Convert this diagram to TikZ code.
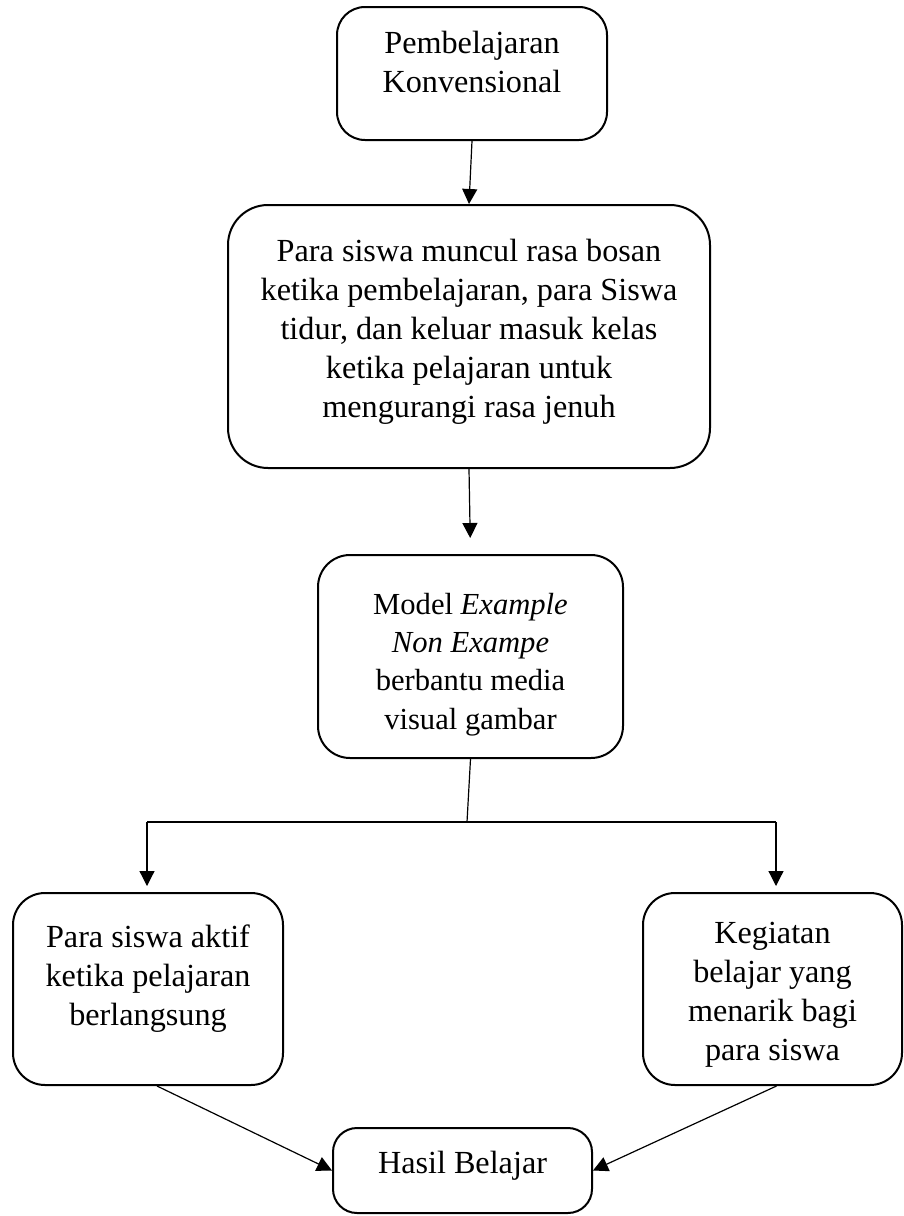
\documentclass[tikz,border=0pt]{standalone}
\usepackage{fontspec}
\setmainfont{Liberation Serif}
\usetikzlibrary{arrows.meta,positioning}

\tikzset{
    flowbox/.style={draw, line width=1pt, rounded corners=14pt, align=flush center,
        inner sep=0pt, text height=0pt, font=\fontsize{16.1}{19.6}\selectfont},
    flowline/.style={line width=0.6pt},
    flowarrow/.style={line width=0.6pt, -{Triangle[length=7.5pt,width=7.5pt]}}
}

\begin{document}
\begin{tikzpicture}[x=0.5pt, y=-0.5pt]
    \useasboundingbox (0,0) rectangle (904,1216);
    % Draw the boxes
    \node[flowbox, text width=125pt, text depth=20.5pt,
        minimum width=135pt, minimum height=66.5pt] (konv) at (472,73.5)
        {Pembelajaran\\Konvensional};
    \node[flowbox, rounded corners=20pt, text width=230pt, text depth=75.5pt,
        minimum width=241pt, minimum height=131.5pt] (bosan) at (469,336.5)
        {Para siswa muncul rasa bosan\\ketika pembelajaran, para Siswa\\tidur, dan keluar masuk kelas\\ketika pelajaran untuk\\mengurangi rasa jenuh};
    \node[flowbox, rounded corners=16pt, text width=142pt, text depth=42.5pt,
        font=\fontsize{15.3}{19.2}\selectfont,
        minimum width=152.5pt, minimum height=101.5pt] (model) at (470.5,656.5)
        {Model \textit{Example}\\\textit{Non Exampe}\\berbantu media\\visual gambar};
    \node[flowbox, rounded corners=16pt, text width=125pt, text depth=42pt,
        minimum width=135pt, minimum height=96pt] (aktif) at (148,989)
        {Para siswa aktif\\ketika pelajaran\\berlangsung};
    \node[flowbox, rounded corners=16pt, text width=120pt, text depth=46pt,
        minimum width=129.5pt, minimum height=96pt] (menarik) at (772.5,989)
        {Kegiatan\\belajar yang\\menarik bagi\\para siswa};
    \node[flowbox, rounded corners=12pt, text width=120pt, text height=2.5pt, text depth=0pt,
        minimum width=129.5pt, minimum height=42.5pt] (hasil) at (462.5,1170.5)
        {Hasil Belajar};
    % Branch points
    \coordinate (split) at (467,822);
    \coordinate (splitL) at (147,822);
    \coordinate (splitR) at (776,822);
    % Draw the connectors
    \draw[flowarrow] (konv.south) -- (bosan.north);
    \draw[flowarrow, shorten >=8pt] (bosan.south) -- (model.north);
    \draw[flowline] (model.south) -- (split);
    \draw[flowline] (splitL) -- (splitR);
    \draw[flowarrow, shorten >=3pt] (splitL) -- (splitL |- aktif.north);
    \draw[flowarrow, shorten >=3pt] (splitR) -- (splitR |- menarik.north);
    \draw[flowarrow] ([xshift=4.5pt]aktif.south) -- (hasil.west);
    \draw[flowarrow] ([xshift=2pt]menarik.south) -- (hasil.east);
\end{tikzpicture}
\end{document}
